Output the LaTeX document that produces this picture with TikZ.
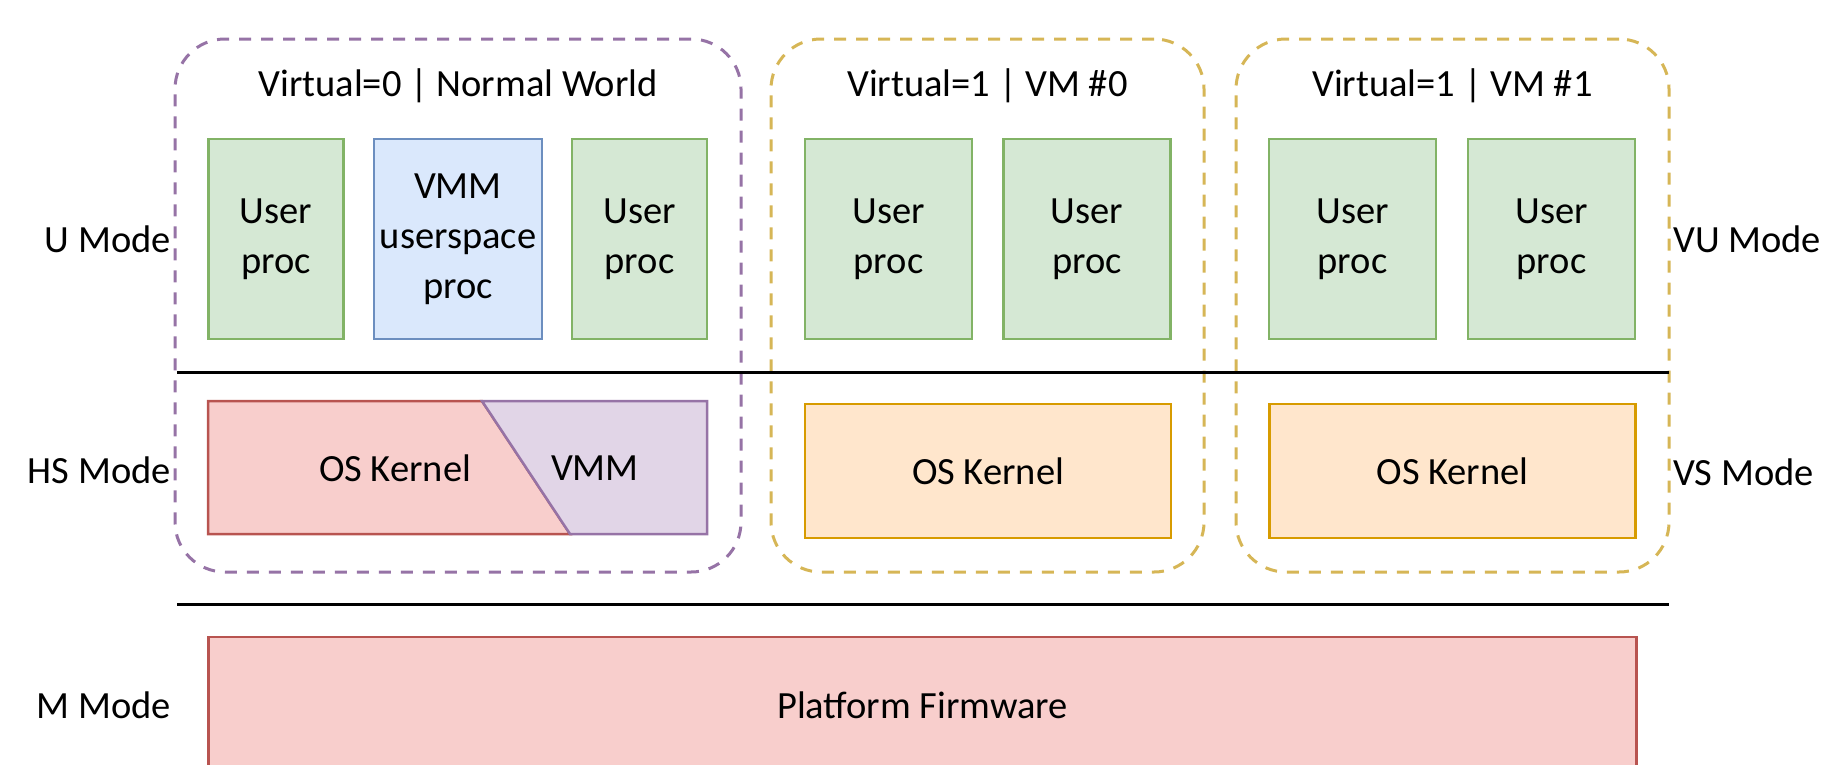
\documentclass[tikz,border=0pt]{standalone}
\usepackage{fontspec}
\setmainfont{Carlito}
\definecolor{grnS}{HTML}{82B366}
\definecolor{grnF}{HTML}{D5E8D4}
\definecolor{bluS}{HTML}{6C8EBF}
\definecolor{bluF}{HTML}{DAE8FC}
\definecolor{redS}{HTML}{B85450}
\definecolor{redF}{HTML}{F8CECC}
\definecolor{purS}{HTML}{9673A6}
\definecolor{purF}{HTML}{E1D5E7}
\definecolor{orgS}{HTML}{D79B00}
\definecolor{orgF}{HTML}{FFE6CC}
\definecolor{ylwS}{HTML}{D6B656}
\tikzset{
  lbl/.style={font=\fontsize{38.5}{50}\selectfont, inner sep=0pt, align=center},
  box/.style={lbl, draw, line width=2.5pt, minimum height=200pt},
  userbox/.style={box, draw=grnS, fill=grnF},
  vmmbox/.style={box, draw=bluS, fill=bluF},
  kernbox/.style={box, draw=orgS, fill=orgF, minimum width=366pt, minimum height=134pt},
  fwbox/.style={box, draw=redS, fill=redF, minimum width=1428pt, minimum height=136pt},
  world/.style={draw, line width=3pt, dash pattern=on 12pt off 10pt, rounded corners=50pt,
                inner sep=0pt, minimum height=533pt, minimum width=433pt},
  sep/.style={draw=black, line width=3pt}
}
\begin{document}
\begin{tikzpicture}[x=1pt,y=-1pt]
\useasboundingbox (0,0) rectangle (1827,764);
\clip (0,0) rectangle (1827,764);

% privilege-level dividers
\coordinate (s1a) at (177,372);
\coordinate (s1b) at (1669,372);
\coordinate (s2a) at (177,604);
\coordinate (s2b) at (1669,604);

% world containers
\node[world, draw=purS, minimum width=566pt] (w0) at (458,305.5) {};
\node[world, draw=ylwS] (vm0) at (987.5,305.5) {};
\node[world, draw=ylwS] (vm1) at (1452.5,305.5) {};

\draw[sep] (s1a) -- (s1b);
\draw[sep] (s2a) -- (s2b);

% titles
\node[lbl] (t0) at (458,86) {Virtual=0 | Normal World};
\node[lbl] (t1) at (987.5,86) {Virtual=1 | VM \#0};
\node[lbl] (t2) at (1452.5,86) {Virtual=1 | VM \#1};

% user mode processes
\node[userbox, minimum width=135pt] (u1) at (276,239) {User\\proc};
\node[vmmbox, minimum width=168pt] (vu) at (458,239) {VMM\\userspace\\proc};
\node[userbox, minimum width=135pt] (u2) at (639.5,239) {User\\proc};
\node[userbox, minimum width=167pt] (u3) at (888.5,239) {User\\proc};
\node[userbox, minimum width=167pt] (u4) at (1087,239) {User\\proc};
\node[userbox, minimum width=167pt] (u5) at (1352.5,239) {User\\proc};
\node[userbox, minimum width=167pt] (u6) at (1551.5,239) {User\\proc};

% hypervisor-extended supervisor: kernel and VMM share one block
\coordinate (k1) at (208,401);
\coordinate (k2) at (482,401);
\coordinate (k3) at (570,534);
\coordinate (k4) at (208,534);
\coordinate (k5) at (707,401);
\coordinate (k6) at (707,534);
\draw[draw=redS, fill=redF, line width=2.5pt] (k1) -- (k2) -- (k3) -- (k4) -- cycle;
\draw[draw=purS, fill=purF, line width=2.5pt] (k2) -- (k5) -- (k6) -- (k3) -- cycle;
\node[lbl] (hk) at (395,468) {OS Kernel};
\node[lbl] (hv) at (595,468) {VMM};

% guest kernels
\node[kernbox] (g0) at (988,471) {OS Kernel};
\node[kernbox] (g1) at (1452.5,471) {OS Kernel};

% machine mode
\node[fwbox] (fw) at (922.5,705) {Platform Firmware};

% mode labels
\node[lbl, anchor=east] (mu) at (171,239) {U Mode};
\node[lbl, anchor=east] (mhs) at (171,470) {HS Mode};
\node[lbl, anchor=east] (mm) at (171,705) {M Mode};
\node[lbl, anchor=west] (mvu) at (1673,239) {VU Mode};
\node[lbl, anchor=west] (mvs) at (1673,472) {VS Mode};
\end{tikzpicture}
\end{document}
